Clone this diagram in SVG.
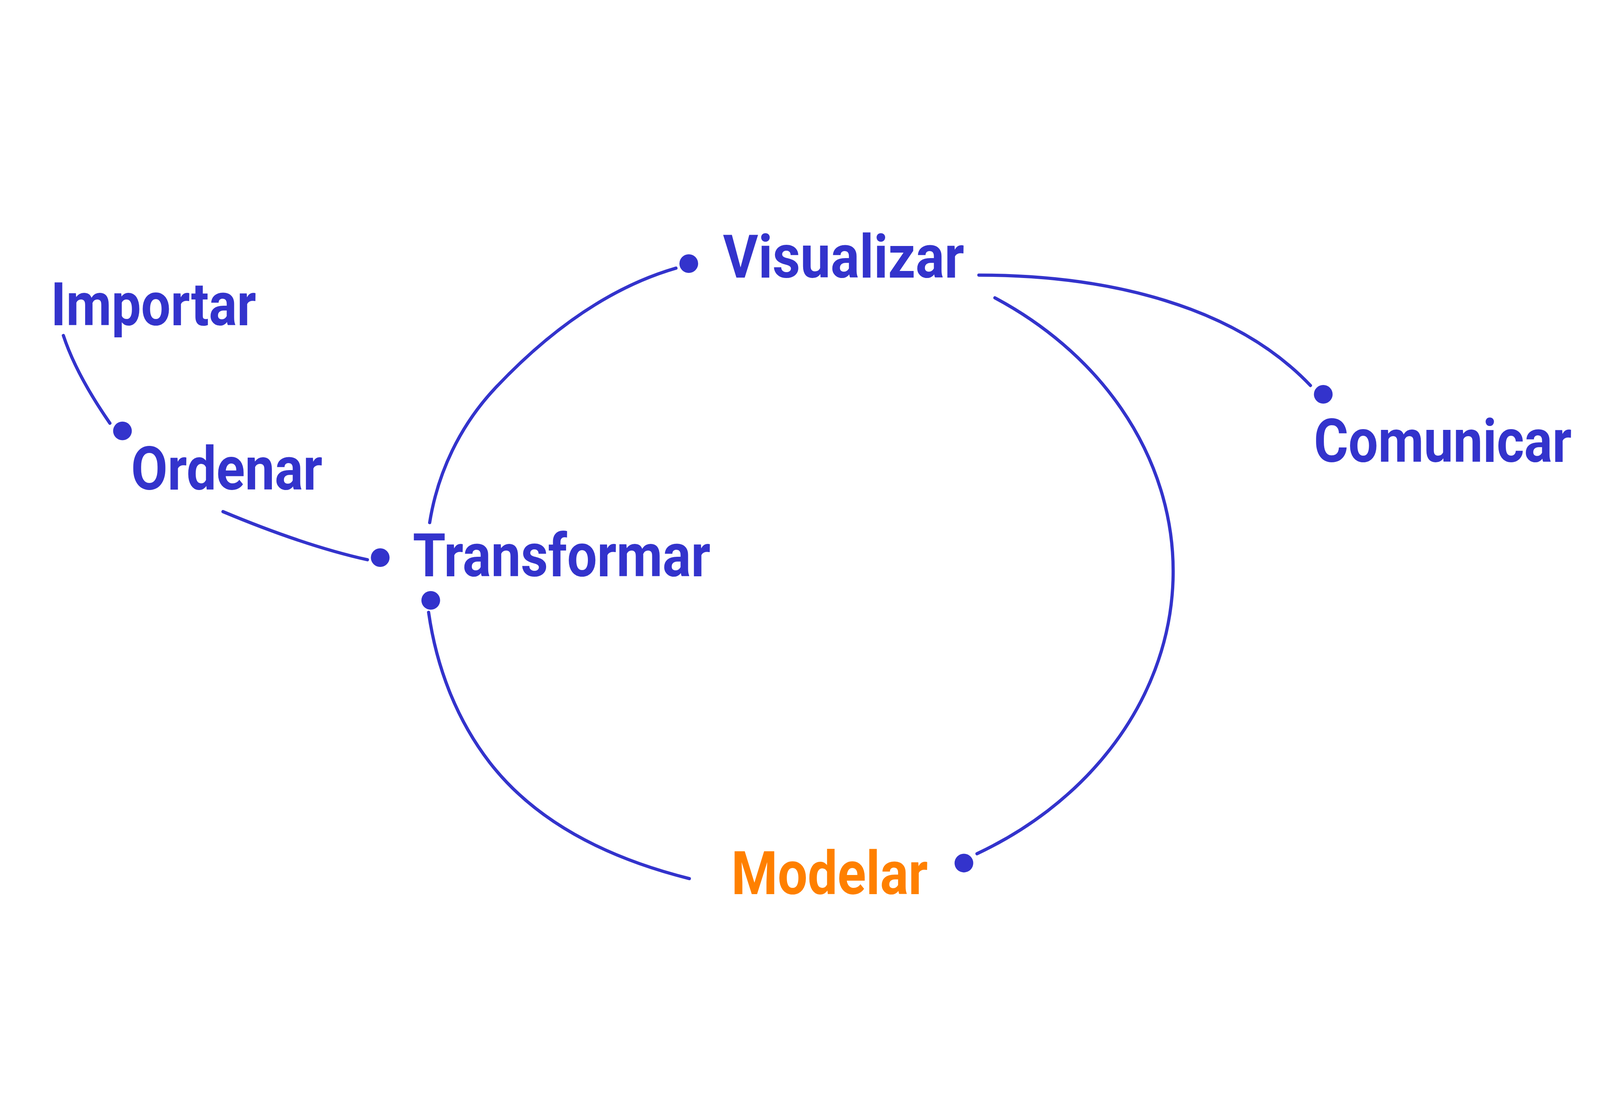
<svg xmlns="http://www.w3.org/2000/svg" width="5984" height="2848" viewBox="0 0 5984 2848">
<style>
svg{width:100vw;height:100vh}
.lbl{font-family:Roboto,"Liberation Sans",sans-serif;font-weight:700;font-size:160px;fill:#3333cc}
.orange{fill:#ff8000}
.edge{fill:none;stroke:#3333cc;stroke-width:12;stroke-linecap:round}
.dot{fill:#3333cc}
</style>
<rect width="5984" height="2848" fill="#ffffff"/>
<g id="connectors">
<path class="edge" d="M237,599 Q285,745 411,927"/>
<path class="edge" d="M834,1258 Q1140,1386 1374,1438"/>
<path class="edge" d="M1607,1299 C1637,1111 1721,936 1851,797 C2040,596 2263,424 2528,347"/>
<path class="edge" d="M3661,373 C4150,373 4620,490 4901,786"/>
<path class="edge" d="M3721,458 A1430,1210 0 0 1 3654,2538"/>
<path class="edge" d="M1603,1635 C1632,1838 1706,2034 1831,2196 C2012,2430 2291,2559 2578,2631"/>
</g>
<g id="importar"><text class="lbl" transform="translate(190,560) scale(1,1.40625)" textLength="768" lengthAdjust="spacingAndGlyphs">Importar</text></g>
<g id="ordenar"><text class="lbl" transform="translate(490,1176) scale(1,1.40625)" textLength="716" lengthAdjust="spacingAndGlyphs">Ordenar</text><circle class="dot" cx="458" cy="956" r="35"/></g>
<g id="transformar"><text class="lbl" transform="translate(1544,1500) scale(1,1.40625)" textLength="1113" lengthAdjust="spacingAndGlyphs">Transformar</text><circle class="dot" cx="1422" cy="1430" r="35"/><circle class="dot" cx="1611" cy="1590" r="35"/></g>
<g id="visualizar"><text class="lbl" transform="translate(2704,382) scale(1,1.40625)" textLength="902" lengthAdjust="spacingAndGlyphs">Visualizar</text><circle class="dot" cx="2576" cy="330" r="35"/></g>
<g id="comunicar"><text class="lbl" transform="translate(4914,1072) scale(1,1.40625)" textLength="964" lengthAdjust="spacingAndGlyphs">Comunicar</text><circle class="dot" cx="4949" cy="819" r="35"/></g>
<g id="modelar"><text class="lbl orange" transform="translate(2735,2689) scale(1,1.40625)" textLength="735" lengthAdjust="spacingAndGlyphs">Modelar</text><circle class="dot" cx="3605" cy="2573" r="35"/></g>
</svg>
